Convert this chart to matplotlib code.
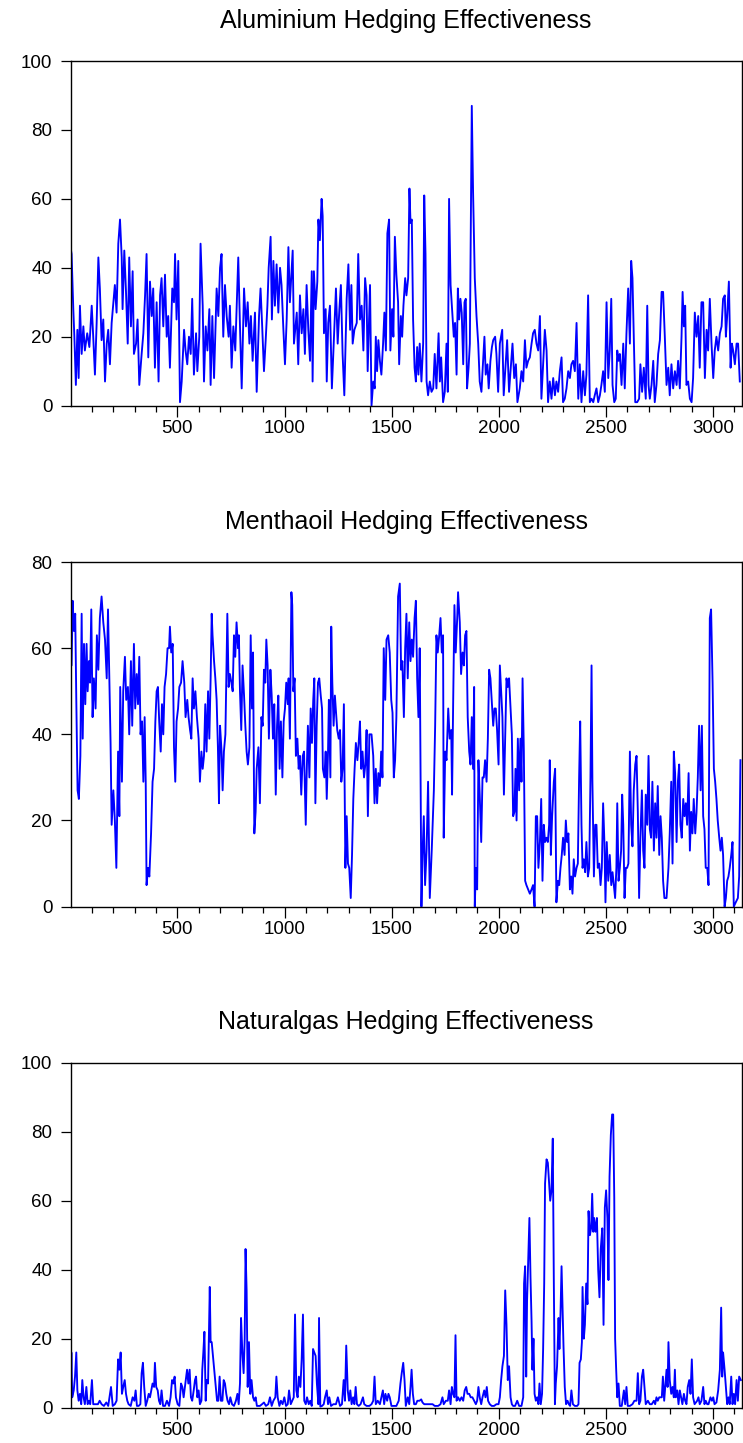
import matplotlib
matplotlib.use("Agg")
import matplotlib.pyplot as plt
from matplotlib.ticker import MultipleLocator

plt.rcParams["font.family"] = ["Liberation Sans", "DejaVu Sans"]

# ------------------------------------------------------------
# data: (observation, hedging effectiveness %) read off the chart
# ------------------------------------------------------------

aluminium = [
    (1, 46), (6, 44), (14, 28), (19, 20), (26, 6), (33, 22), (39, 8), (45, 29), (53, 15), (61, 23),
    (68, 16), (79, 21), (89, 17), (100, 29), (107, 20), (115, 9), (123, 24), (131, 43), (138, 34),
    (146, 19), (154, 25), (162, 7), (170, 18), (177, 22), (185, 12), (193, 24), (208, 35), (216, 27),
    (224, 47), (232, 54), (240, 43), (244, 28), (252, 45), (260, 33), (268, 18), (275, 43), (283, 23),
    (291, 39), (297, 15), (307, 18), (314, 25), (322, 6), (333, 15), (341, 21), (349, 32), (356, 44),
    (364, 14), (372, 36), (380, 26), (387, 34), (395, 11), (403, 30), (412, 7), (419, 32), (426, 37),
    (434, 23), (442, 38), (450, 20), (457, 26), (465, 11), (476, 34), (484, 30), (489, 44), (496, 25),
    (504, 42), (512, 1), (520, 7), (531, 22), (538, 16), (546, 12), (554, 20), (562, 15), (569, 31),
    (577, 9), (587, 21), (593, 10), (602, 20), (608, 47), (618, 29), (624, 7), (632, 23), (640, 16),
    (649, 28), (655, 6), (663, 26), (671, 8), (683, 34), (691, 26), (699, 40), (706, 44), (714, 20),
    (722, 35), (730, 26), (739, 20), (745, 29), (753, 11), (761, 23), (770, 16), (784, 43), (792, 23),
    (800, 5), (811, 34), (820, 23), (828, 30), (836, 18), (843, 26), (851, 13), (862, 27), (870, 4),
    (881, 26), (888, 34), (895, 24), (904, 10), (912, 19), (920, 29), (926, 40), (935, 49), (941, 25),
    (948, 42), (955, 29), (963, 41), (971, 27), (979, 40), (986, 35), (994, 23), (1002, 12), (1010, 25),
    (1018, 46), (1025, 30), (1033, 39), (1038, 45), (1044, 18), (1057, 27), (1064, 12), (1072, 32),
    (1080, 21), (1088, 28), (1095, 15), (1103, 35), (1111, 22), (1119, 13), (1127, 39), (1131, 7),
    (1137, 39), (1145, 28), (1153, 36), (1158, 54), (1165, 48), (1173, 60), (1178, 55), (1184, 21),
    (1192, 28), (1197, 7), (1204, 24), (1212, 29), (1221, 5), (1232, 22), (1240, 34), (1248, 18),
    (1256, 28), (1263, 35), (1271, 15), (1279, 3), (1290, 31), (1298, 41), (1306, 22), (1312, 35),
    (1318, 18), (1326, 22), (1337, 24), (1344, 44), (1352, 25), (1360, 29), (1368, 16), (1376, 37),
    (1383, 32), (1388, 10), (1399, 35),
    (1406, 0), (1414, 7), (1421, 5), (1426, 20), (1432, 10), (1438, 19), (1445, 13), (1452, 9),
    (1460, 18), (1466, 27), (1473, 16), (1480, 50), (1488, 54), (1494, 16), (1502, 28), (1508, 20),
    (1515, 49), (1522, 38), (1530, 30), (1535, 12), (1543, 26), (1549, 20), (1555, 29), (1563, 37),
    (1569, 32), (1577, 37), (1583, 63), (1588, 53), (1594, 54), (1600, 25), (1607, 11), (1613, 7),
    (1619, 17), (1625, 9), (1631, 18), (1639, 7), (1647, 18), (1652, 61), (1658, 44), (1663, 7),
    (1670, 3), (1678, 7), (1686, 4), (1694, 5), (1701, 15), (1709, 5), (1719, 21), (1725, 7),
    (1731, 14), (1740, 1), (1748, 4), (1756, 18), (1762, 4), (1768, 60), (1775, 35), (1782, 28),
    (1790, 20), (1796, 24), (1803, 9), (1809, 34), (1815, 25), (1821, 31), (1827, 27), (1834, 12),
    (1840, 30), (1846, 31), (1852, 5), (1859, 11), (1865, 18), (1871, 64), (1874, 87), (1880, 62),
    (1888, 37), (1896, 26), (1904, 18), (1911, 7), (1919, 4), (1927, 13), (1933, 20), (1939, 9),
    (1947, 12), (1953, 5), (1961, 13), (1968, 17), (1974, 19), (1983, 20), (1989, 15), (1997, 4),
    (2005, 18), (2016, 22), (2023, 3), (2031, 11), (2039, 19), (2048, 4), (2055, 10), (2064, 18),
    (2072, 8), (2080, 12), (2087, 1), (2098, 5), (2106, 10), (2114, 7), (2122, 19), (2129, 11),
    (2137, 13), (2145, 14), (2153, 18), (2160, 21), (2168, 22), (2176, 18), (2184, 16), (2192, 26),
    (2199, 2), (2207, 12), (2215, 22), (2223, 16), (2230, 1), (2238, 7), (2246, 2), (2254, 8),
    (2262, 3), (2269, 7), (2277, 4), (2285, 10), (2293, 14), (2300, 1), (2308, 2), (2316, 5),
    (2324, 10), (2332, 8), (2339, 12), (2347, 13), (2355, 10), (2363, 24), (2371, 2), (2378, 12),
    (2386, 1), (2394, 10), (2402, 3), (2409, 9), (2417, 32), (2425, 1), (2433, 2), (2441, 1),
    (2448, 3), (2456, 5), (2464, 1), (2472, 3), (2479, 6), (2487, 10), (2495, 4), (2503, 30),
    (2511, 8), (2518, 16), (2525, 31), (2531, 6), (2539, 1), (2546, 2), (2553, 16), (2559, 13),
    (2565, 15), (2573, 6), (2581, 18), (2588, 5), (2596, 21), (2604, 34), (2612, 18), (2618, 42),
    (2624, 37), (2630, 20), (2637, 1), (2646, 1), (2655, 2), (2661, 12), (2669, 4), (2677, 11),
    (2686, 2), (2693, 29), (2699, 6), (2705, 2), (2713, 6), (2721, 13), (2728, 1), (2736, 6),
    (2744, 15), (2752, 19), (2760, 33), (2767, 33), (2775, 20), (2783, 6), (2791, 11), (2798, 3),
    (2806, 12), (2814, 5), (2822, 10), (2830, 6), (2837, 13), (2845, 5), (2853, 20), (2858, 33),
    (2864, 23), (2870, 29), (2876, 6), (2884, 7), (2892, 2), (2900, 1), (2907, 8), (2915, 27),
    (2923, 20), (2931, 26), (2938, 11), (2946, 30), (2954, 30), (2962, 8), (2970, 22), (2977, 16),
    (2985, 31), (2993, 18), (3001, 8), (3008, 16), (3016, 20), (3024, 16), (3032, 21), (3040, 23),
    (3047, 31), (3055, 32), (3060, 20), (3066, 26), (3074, 36), (3082, 11), (3088, 18), (3094, 16),
    (3102, 12), (3110, 18), (3117, 18), (3125, 7),
]

menthaoil = [
    (1, 73), (6, 56), (11, 71), (17, 64), (23, 68), (28, 48), (34, 27), (40, 25), (47, 35), (53, 68),
    (58, 39), (64, 61), (70, 47), (76, 61), (81, 50), (87, 57), (92, 52), (98, 69), (104, 44),
    (110, 53), (118, 46), (124, 63), (131, 55), (138, 67), (146, 72), (154, 66), (162, 62), (170, 53),
    (176, 69), (182, 53), (188, 38), (193, 19), (201, 27), (208, 20), (215, 9), (223, 36), (229, 21),
    (233, 51), (241, 29), (247, 50), (255, 58), (261, 48), (269, 51), (275, 40), (283, 57), (289, 42),
    (297, 61), (303, 46), (310, 54), (316, 47), (322, 58), (328, 40), (335, 43), (341, 29), (347, 44),
    (352, 29), (356, 5), (363, 9), (369, 7), (377, 17), (384, 29), (391, 32), (397, 43), (403, 50),
    (409, 51), (415, 43), (422, 36), (428, 47), (434, 40), (440, 51), (447, 54), (454, 60), (461, 60),
    (465, 65), (471, 59), (478, 61), (484, 37), (490, 29), (496, 43), (503, 46), (509, 51), (517, 52),
    (524, 57), (532, 52), (538, 44), (546, 48), (552, 44), (559, 41), (565, 39), (571, 53), (577, 46),
    (584, 50), (591, 44), (599, 39), (605, 29), (612, 36), (618, 32), (624, 35), (630, 47), (636, 36),
    (643, 50), (649, 39), (655, 53), (660, 68), (664, 63), (671, 57), (677, 53), (683, 48), (689, 37),
    (694, 24), (699, 42), (706, 36), (711, 27), (717, 36), (724, 40), (728, 53), (733, 68), (739, 51),
    (745, 54), (752, 52), (758, 50), (764, 63), (770, 58), (776, 66), (783, 60), (787, 63), (792, 50),
    (798, 41), (804, 56), (811, 49), (817, 42), (823, 36), (829, 33), (836, 37), (842, 63), (848, 46),
    (853, 59), (859, 17), (865, 22), (870, 32), (878, 37), (885, 24), (892, 44), (898, 42), (904, 55),
    (910, 52), (915, 62), (921, 56), (927, 39), (934, 55), (940, 49), (946, 39), (952, 47), (959, 26),
    (965, 42), (971, 49), (977, 32), (983, 43), (990, 30), (996, 43), (1002, 46), (1008, 52),
    (1015, 47), (1019, 53), (1025, 39), (1032, 73), (1036, 70), (1041, 50), (1047, 53), (1053, 35),
    (1060, 39), (1066, 32), (1072, 35), (1078, 26), (1085, 35), (1091, 36), (1099, 19), (1103, 30),
    (1109, 42), (1116, 30), (1122, 46), (1128, 38), (1134, 48), (1139, 53), (1144, 24), (1150, 42),
    (1156, 52), (1162, 53), (1169, 49), (1175, 46), (1179, 32), (1186, 30), (1192, 36), (1197, 25),
    (1203, 36), (1207, 48), (1214, 30), (1218, 65), (1223, 52), (1229, 42), (1235, 49), (1242, 44),
    (1246, 41), (1253, 39), (1259, 41), (1265, 29), (1271, 32), (1277, 47), (1284, 9), (1290, 21),
    (1296, 10), (1302, 9), (1309, 2), (1315, 12), (1321, 25), (1327, 32), (1333, 38), (1340, 34),
    (1346, 38), (1352, 43), (1358, 32), (1364, 36), (1371, 30), (1377, 33), (1383, 41), (1389, 21),
    (1396, 40),
    (1406, 40), (1414, 35), (1420, 24), (1426, 32), (1432, 24), (1438, 31), (1445, 28), (1451, 36),
    (1457, 30), (1463, 60), (1470, 48), (1476, 62), (1484, 63), (1491, 59), (1498, 48), (1504, 45),
    (1510, 30), (1516, 34), (1522, 44), (1530, 72), (1538, 75), (1544, 55), (1550, 57), (1557, 44),
    (1563, 60), (1569, 68), (1575, 53), (1582, 66), (1588, 57), (1594, 62), (1600, 58), (1607, 67),
    (1613, 71), (1619, 53), (1625, 44), (1631, 60), (1635, 30), (1639, 0), (1644, 12), (1650, 21),
    (1656, 5), (1663, 13), (1670, 29), (1678, 2), (1687, 13), (1697, 27), (1703, 42), (1709, 63),
    (1715, 59), (1722, 63), (1728, 67), (1734, 59), (1740, 63), (1743, 16), (1750, 36), (1756, 34),
    (1764, 46), (1771, 39), (1778, 41), (1782, 26), (1787, 47), (1793, 70), (1799, 59), (1806, 67),
    (1810, 73), (1818, 66), (1824, 54), (1831, 59), (1837, 56), (1843, 63), (1849, 64), (1855, 44),
    (1862, 36), (1868, 33), (1874, 44), (1880, 32), (1885, 51), (1888, 0), (1893, 9), (1899, 4),
    (1905, 34), (1911, 26), (1918, 15), (1924, 30), (1930, 30), (1936, 34), (1943, 29), (1949, 39),
    (1955, 55), (1961, 53), (1967, 48), (1974, 42), (1980, 46), (1986, 46), (1992, 41), (1999, 33),
    (2005, 56), (2011, 50), (2017, 44), (2024, 26), (2030, 40), (2036, 53), (2042, 51), (2048, 53),
    (2055, 46), (2061, 40), (2067, 21), (2073, 22), (2078, 32), (2083, 20), (2089, 39), (2095, 27),
    (2101, 39), (2106, 29), (2111, 53), (2117, 36), (2123, 6), (2129, 5), (2137, 4), (2145, 3),
    (2153, 4), (2160, 5), (2167, 0), (2173, 21), (2179, 21), (2185, 9), (2192, 15), (2198, 25),
    (2204, 6), (2210, 19), (2216, 15), (2223, 16), (2229, 15), (2235, 19), (2238, 34), (2243, 12),
    (2249, 21), (2257, 29), (2263, 32), (2269, 1), (2276, 6), (2282, 5), (2288, 9), (2294, 12),
    (2300, 16), (2307, 12), (2313, 20), (2319, 15), (2325, 17), (2332, 4), (2338, 7), (2344, 3),
    (2350, 11), (2356, 7), (2363, 9), (2369, 10), (2375, 30), (2380, 43), (2386, 19), (2391, 9),
    (2397, 11), (2403, 8), (2409, 15), (2416, 7), (2422, 9), (2428, 30), (2433, 56), (2437, 29),
    (2444, 7), (2450, 19), (2456, 19), (2462, 9), (2469, 10), (2475, 5), (2481, 9), (2487, 24),
    (2493, 15), (2498, 1), (2504, 15), (2511, 6), (2518, 12), (2525, 5), (2531, 8), (2537, 5),
    (2543, 2), (2549, 9), (2553, 24), (2559, 6), (2565, 9), (2571, 13), (2576, 26), (2581, 19),
    (2587, 2), (2593, 9), (2599, 9), (2605, 10), (2612, 36), (2618, 19), (2624, 14), (2630, 27),
    (2637, 33), (2643, 35), (2649, 22), (2655, 2), (2661, 16), (2668, 27), (2674, 13), (2680, 9),
    (2686, 26), (2693, 19), (2699, 35), (2705, 18), (2711, 16), (2717, 29), (2724, 13), (2730, 24),
    (2736, 16), (2742, 28), (2749, 12), (2755, 21), (2761, 16), (2767, 6), (2773, 2), (2783, 2),
    (2792, 9), (2798, 17), (2805, 29), (2811, 10), (2817, 36), (2823, 31), (2830, 15), (2836, 29),
    (2842, 33), (2848, 19), (2854, 16), (2861, 25), (2867, 21), (2873, 24), (2879, 19), (2886, 31),
    (2892, 13), (2898, 22), (2904, 17), (2910, 25), (2917, 17), (2923, 22), (2929, 30), (2935, 42),
    (2942, 27), (2948, 42), (2954, 21), (2960, 18), (2966, 9), (2973, 9), (2979, 5), (2985, 67),
    (2991, 69), (2998, 52), (3004, 32), (3010, 29), (3016, 25), (3022, 20), (3029, 16), (3035, 13),
    (3041, 16), (3047, 12), (3054, 0), (3060, 2), (3066, 6), (3072, 7), (3078, 9), (3085, 12),
    (3091, 15), (3097, 0), (3106, 1), (3116, 2), (3122, 7), (3128, 34),
]

naturalgas = [
    (1, 1), (5, 16), (9, 3), (16, 5), (22, 9), (28, 16), (33, 5), (39, 2), (45, 4), (51, 1), (56, 8),
    (62, 3), (68, 1), (75, 6), (81, 1), (87, 2), (93, 1), (101, 8), (107, 1), (120, 1), (129, 1),
    (137, 2), (146, 1), (157, 0.5), (168, 1.5), (177, 0.5), (190, 6), (198, 0.5), (208, 1), (216, 2),
    (223, 14), (229, 11), (235, 16), (241, 4), (247, 6), (254, 8), (260, 4), (266, 2), (272, 1),
    (282, 0.5), (291, 3), (299, 2), (305, 5), (311, 0.5), (319, 0.5), (327, 1), (333, 10), (339, 13),
    (345, 6), (352, 0.5), (359, 2), (366, 4), (372, 3), (378, 5), (384, 7), (391, 6), (395, 13),
    (401, 6), (408, 5), (414, 2), (420, 1), (426, 5), (433, 0.5), (442, 0.5), (451, 2), (461, 0.5),
    (468, 3), (475, 8), (481, 7), (487, 9), (493, 3), (501, 1), (509, 0.5), (517, 7), (523, 6),
    (529, 3), (537, 7), (545, 11), (551, 7), (557, 11), (563, 3), (569, 2), (576, 5), (582, 8),
    (587, 9), (593, 3), (599, 5), (605, 1), (612, 2), (616, 11), (621, 16), (626, 22), (632, 2),
    (636, 8), (643, 7), (646, 18), (651, 35), (655, 19), (660, 19), (666, 15), (672, 11), (678, 7),
    (685, 2), (691, 2), (697, 9), (703, 2), (710, 2), (716, 8), (722, 7), (728, 4), (734, 2),
    (741, 1), (747, 3), (755, 1), (764, 0.5), (773, 2), (780, 4), (786, 1), (792, 7), (797, 26),
    (803, 16), (809, 10), (814, 20), (818, 46), (823, 34), (828, 6), (834, 19), (840, 4), (846, 8),
    (853, 3), (859, 2), (865, 3), (871, 0.5), (885, 0.5), (895, 1), (904, 1.5), (913, 0.5), (924, 1),
    (932, 3), (940, 0.5), (948, 2), (957, 3), (962, 9), (968, 3), (976, 0.5), (983, 2), (991, 1),
    (999, 3), (1007, 0.5), (1015, 1), (1021, 5), (1029, 1), (1036, 2), (1043, 3), (1049, 27),
    (1055, 5), (1061, 3), (1067, 9), (1074, 6), (1080, 14), (1086, 27), (1092, 2), (1099, 1),
    (1105, 3), (1113, 1), (1120, 2), (1127, 0.5), (1133, 17), (1139, 16), (1145, 15), (1151, 7),
    (1158, 1), (1161, 26), (1167, 0.3), (1175, 0.5), (1183, 1), (1189, 3), (1197, 5), (1203, 1),
    (1209, 3), (1217, 0.5), (1228, 1), (1240, 1), (1249, 3), (1259, 0.5), (1268, 1), (1276, 8),
    (1282, 2), (1288, 18), (1295, 5), (1301, 2), (1307, 5), (1313, 1), (1320, 3), (1326, 1),
    (1332, 6), (1338, 1), (1346, 0.5), (1355, 1), (1366, 3), (1372, 1), (1383, 0.5), (1396, 0.5),
    (1406, 1), (1414, 2), (1420, 9), (1426, 1), (1435, 2), (1445, 1), (1452, 3), (1459, 5),
    (1465, 1), (1471, 4), (1479, 2), (1485, 4), (1491, 3), (1499, 0.5), (1510, 0.5), (1522, 0.5),
    (1533, 2), (1541, 7), (1547, 10), (1554, 13), (1560, 8), (1566, 0.5), (1575, 3), (1582, 1),
    (1588, 6), (1593, 11), (1599, 4), (1605, 1), (1613, 1), (1620, 2), (1630, 2), (1638, 2.4),
    (1644, 1.5), (1652, 1), (1663, 1), (1678, 1), (1691, 1), (1701, 0.5), (1717, 0.5), (1728, 1),
    (1737, 3), (1743, 1), (1753, 2), (1762, 2), (1768, 5), (1775, 1), (1781, 6), (1787, 4),
    (1793, 3), (1798, 21), (1803, 2), (1810, 3), (1818, 2), (1826, 3), (1834, 2), (1841, 5),
    (1848, 6), (1854, 4), (1862, 4), (1869, 3), (1877, 3), (1885, 2), (1893, 1), (1899, 2),
    (1905, 6), (1911, 3), (1918, 1), (1924, 3), (1932, 5), (1938, 3), (1944, 6), (1950, 2),
    (1958, 1), (1967, 0.5), (1978, 0.5), (1989, 1), (1999, 1), (2005, 3), (2011, 8), (2017, 12),
    (2024, 15), (2030, 34), (2036, 24), (2042, 8), (2048, 12), (2055, 3), (2061, 1), (2067, 0.5),
    (2076, 0.5), (2086, 2), (2095, 0.5), (2106, 0.5), (2114, 3), (2118, 36), (2123, 41), (2128, 9),
    (2132, 31), (2139, 47), (2143, 55), (2148, 38), (2153, 25), (2157, 11), (2162, 20), (2167, 4),
    (2173, 2), (2179, 3), (2185, 1), (2190, 7), (2196, 1), (2202, 4), (2207, 17), (2212, 36),
    (2216, 65), (2223, 72), (2229, 71), (2235, 65), (2240, 60), (2246, 63), (2252, 78), (2257, 36),
    (2262, 1), (2266, 7), (2272, 12), (2279, 26), (2283, 17), (2288, 27), (2293, 41), (2297, 31),
    (2302, 18), (2308, 6), (2314, 1), (2321, 2), (2327, 1), (2333, 0.5), (2339, 5), (2346, 1),
    (2355, 0.5), (2366, 0.5), (2372, 1), (2377, 13), (2383, 14), (2388, 19), (2391, 35), (2397, 20),
    (2402, 24), (2408, 36), (2414, 30), (2419, 57), (2425, 50), (2431, 52), (2436, 62), (2441, 51),
    (2445, 55), (2451, 51), (2458, 55), (2464, 40), (2470, 32), (2476, 46), (2483, 52), (2489, 24),
    (2495, 58), (2501, 63), (2507, 55), (2512, 37), (2517, 67), (2523, 79), (2529, 85), (2534, 85),
    (2539, 61), (2543, 20), (2548, 11), (2553, 3), (2559, 7), (2565, 0.5), (2574, 0.5), (2584, 5),
    (2590, 1), (2596, 6), (2602, 0.5), (2612, 0.5), (2624, 1), (2633, 2), (2643, 2), (2649, 10),
    (2655, 1), (2661, 2), (2668, 9), (2674, 11), (2680, 6), (2686, 1), (2696, 2), (2705, 1),
    (2714, 1), (2724, 2), (2730, 1), (2736, 3), (2742, 2), (2749, 3), (2755, 3), (2761, 3),
    (2766, 9), (2772, 2), (2778, 7), (2783, 11), (2788, 6), (2792, 19), (2798, 8), (2805, 4),
    (2811, 6), (2817, 3), (2822, 11), (2826, 3), (2833, 5), (2839, 1), (2845, 5), (2851, 3),
    (2857, 1), (2864, 4), (2870, 2), (2876, 1), (2882, 6), (2889, 8), (2895, 4), (2901, 14),
    (2907, 3), (2914, 1), (2920, 1.5), (2926, 2), (2932, 3), (2938, 1), (2946, 2), (2954, 6),
    (2960, 1), (2966, 2), (2973, 1), (2979, 1), (2988, 3), (2995, 2), (3001, 3), (3007, 1),
    (3016, 1.5), (3024, 5), (3032, 11), (3038, 29), (3043, 9), (3047, 16), (3054, 11), (3060, 6),
    (3066, 1), (3072, 3), (3078, 1), (3085, 9), (3091, 1), (3097, 4), (3103, 1), (3110, 8),
    (3116, 2), (3122, 9), (3130, 8),
]

titles = [
    "Aluminium Hedging Effectiveness",
    "Menthaoil Hedging Effectiveness",
    "Naturalgas Hedging Effectiveness",
]
y_tops = [100, 80, 100]
x_labels = ["500", "1000", "1500", "2000", "2500", "3000"]
n_obs = 3133


# ============================================================
# figure: three stacked panels, EViews style
# ============================================================

fig = plt.figure(figsize=(7.43, 14.43), dpi=100)

# axes rectangles (left, bottom, width, height) in figure fractions
panel_boxes = [
    (0.0949, 0.7189, 0.9031, 0.2388),
    (0.0949, 0.3717, 0.9031, 0.2388),
    (0.0949, 0.0245, 0.9031, 0.2390),
]

for box, series, title, ytop in zip(panel_boxes, [aluminium, menthaoil, naturalgas], titles, y_tops):
    ax = fig.add_axes(box)
    obs, vals = zip(*series)
    ax.plot(obs, vals, color="#0000ff", linewidth=1.35)

    ax.set_xlim(1, n_obs)
    ax.set_ylim(0, ytop)

    ax.set_xticks([int(s) for s in x_labels])
    ax.set_xticklabels(x_labels)
    ax.xaxis.set_minor_locator(MultipleLocator(100))
    ax.yaxis.set_major_locator(MultipleLocator(20))
    ax.tick_params(axis="x", which="major", direction="out", length=8, width=0.9,
                   pad=2.5, labelsize=13.5, top=False)
    ax.tick_params(axis="x", which="minor", direction="out", length=4, width=0.9, top=False)
    ax.tick_params(axis="y", direction="out", length=7.5, width=0.9,
                   pad=5.5, labelsize=13.5, right=False)

    for spine in ax.spines.values():
        spine.set_linewidth(1.0)

    ax.set_title(title, fontsize=18, pad=24)

fig.savefig("out.png", dpi=100)
